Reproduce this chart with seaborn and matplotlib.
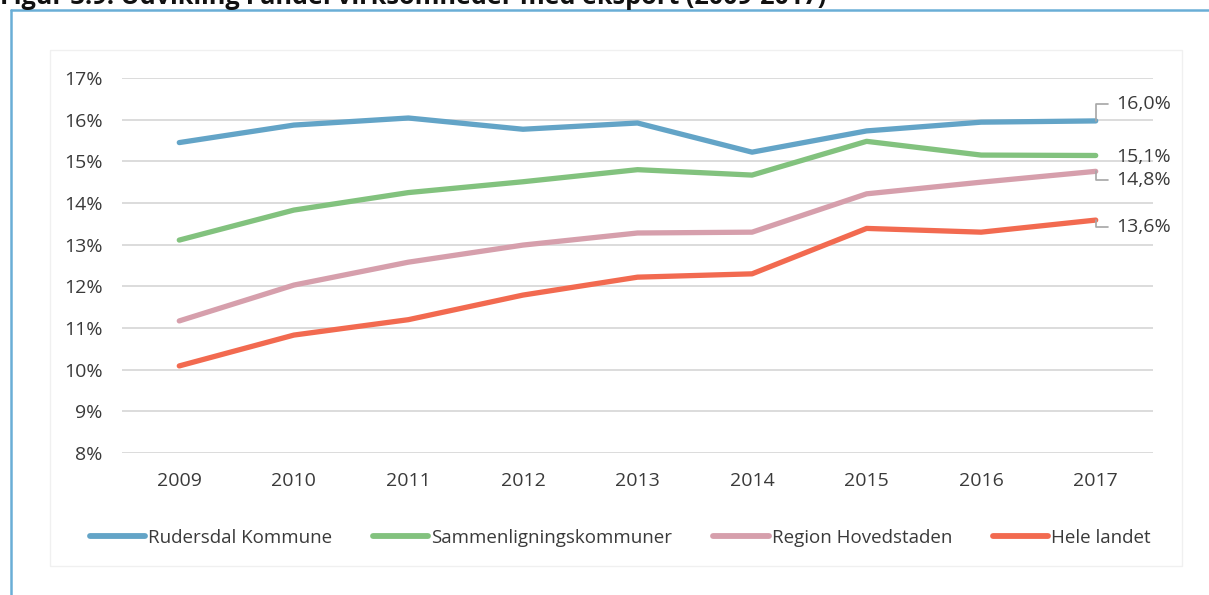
import seaborn as sns
import pandas as pd
import matplotlib.pyplot as plt
from matplotlib.patches import Rectangle
from matplotlib.lines import Line2D

years = [2009, 2010, 2011, 2012, 2013, 2014, 2015, 2016, 2017]
rudersdal = [15.45, 15.87, 16.04, 15.77, 15.92, 15.22, 15.73, 15.94, 15.97]
sammenligning = [13.11, 13.83, 14.25, 14.51, 14.80, 14.67, 15.48, 15.15, 15.14]
region = [11.17, 12.03, 12.58, 12.99, 13.28, 13.30, 14.22, 14.50, 14.76]
hele_landet = [10.09, 10.83, 11.20, 11.79, 12.22, 12.30, 13.39, 13.30, 13.59]

series_names = ["Rudersdal Kommune", "Sammenligningskommuner", "Region Hovedstaden", "Hele landet"]
end_labels = ["16,0%", "15,1%", "14,8%", "13,6%"]
y_ticks = [8, 9, 10, 11, 12, 13, 14, 15, 16, 17]
title = "Figur 3.9: Udvikling i andel virksomheder med eksport (2009-2017)"

colors = ["#63a4c7", "#82c27e", "#d69fac", "#f26a50"]

rows = []
for name, vals in zip(series_names, [rudersdal, sammenligning, region, hele_landet]):
    for yr, v in zip(years, vals):
        rows.append({"year": yr, "value": v, "series": name})
df = pd.DataFrame(rows)

sns.set_style("white")
plt.rcParams["font.family"] = ["Open Sans", "DejaVu Sans"]
text_col = "#3a3a3a"
fs = 14

fig = plt.figure(figsize=(12.09, 5.95), dpi=100)
ax = fig.add_axes([122 / 1209, 1 - 453 / 595, (1153 - 122) / 1209, (453 - 78) / 595])

sns.lineplot(data=df, x="year", y="value", hue="series", hue_order=series_names,
             palette=colors, linewidth=3.8, ax=ax, legend=False,
             solid_capstyle="round")

ax.set_xlim(2008.5, 2017.5)
ax.set_ylim(8, 17)
ax.set_xticks(years)
ax.set_xticklabels([str(y) for y in years])
ax.set_yticks(y_ticks)
ax.set_yticklabels([f"{t}%" for t in y_ticks])
ax.set_xlabel("")
ax.set_ylabel("")
ax.grid(axis="y", color="#d9d9d9", linewidth=1.3)
ax.set_axisbelow(True)
for s in ax.spines.values():
    s.set_visible(False)
ax.tick_params(axis="both", length=0, labelsize=fs, colors=text_col)
ax.tick_params(axis="y", pad=14)
ax.tick_params(axis="x", pad=14)

# end labels with leader lines
offsets = [(15, 12), (15, -1), (15, -6), (15, -5)]
series_vals = [rudersdal, sammenligning, region, hele_landet]
for idx, (vals, lab, off) in enumerate(zip(series_vals, end_labels, offsets)):
    if idx == 1:
        ax.annotate(lab, xy=(years[-1], vals[-1]), xytext=off,
                    textcoords="offset points", ha="left", va="center",
                    fontsize=fs, color=text_col)
    else:
        ax.annotate(lab, xy=(years[-1], vals[-1]), xytext=off,
                    textcoords="offset points", ha="left", va="center",
                    fontsize=fs, color=text_col,
                    arrowprops=dict(arrowstyle="-", color="#a6a6a6", lw=1.2,
                                    connectionstyle="angle,angleA=0,angleB=90,rad=0",
                                    relpos=(0, 0.5), shrinkA=4, shrinkB=0))

handles = [Line2D([0], [0], color=c, linewidth=4.2, solid_capstyle="round") for c in colors]
fig.legend(handles, series_names, loc="center", bbox_to_anchor=(0.513, 1 - 538 / 595),
           ncol=4, frameon=False, fontsize=13.5, handlelength=2.95, handletextpad=0.15,
           columnspacing=2.2, labelcolor=text_col)

# frame and cut-off title
fig.patches.append(Rectangle((50 / 1209, 1 - 566 / 595), (1182 - 50) / 1209, (566 - 50) / 595,
                             transform=fig.transFigure, fill=False, edgecolor="#f0f0f0", lw=1))
fig.add_artist(Line2D([11 / 1209, 11 / 1209], [0, 1 - 10 / 595], color="#6aaed6", lw=1.8,
                      transform=fig.transFigure))
fig.add_artist(Line2D([11 / 1209, 1], [1 - 10 / 595, 1 - 10 / 595], color="#6aaed6", lw=1.8,
                      transform=fig.transFigure))
fig.text(0.0, 1 - 4 / 595, title, fontsize=18.2, fontweight="bold", color="#111111",
         ha="left", va="baseline")

fig.savefig("out.png", dpi=100)
